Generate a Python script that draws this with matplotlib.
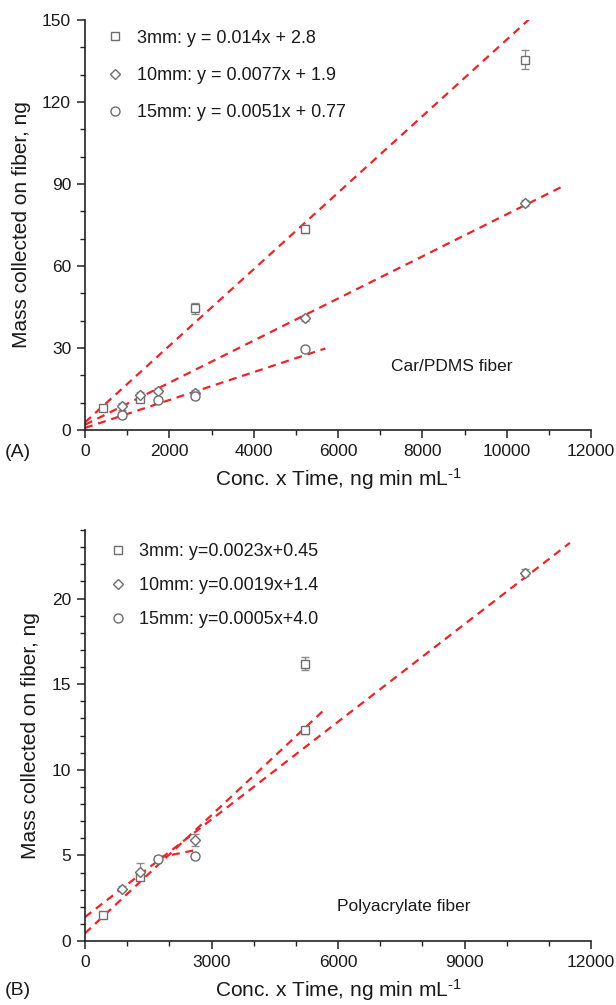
import matplotlib
matplotlib.use("Agg")
import matplotlib.pyplot as plt
from matplotlib.ticker import MultipleLocator
import numpy as np

plt.rcParams['font.family'] = ['Liberation Sans', 'DejaVu Sans']
plt.rcParams['mathtext.fontset'] = 'custom'
plt.rcParams['mathtext.rm'] = 'Liberation Sans'
plt.rcParams['mathtext.it'] = 'Liberation Sans'

# ---------------- Data ----------------
series_names = ["3mm", "10mm", "15mm"]
markers = ["s", "D", "o"]

# Panel A: Car/PDMS fiber
a_x_3mm = [435, 1305, 2610, 5220, 10440]
a_y_3mm = [8.2, 11.2, 44.5, 73.5, 135.5]
a_e_3mm = [0.8, 0.8, 2.0, 1.5, 3.5]
a_x_10mm = [870, 1305, 1740, 2610, 5220, 10440]
a_y_10mm = [8.7, 12.8, 14.4, 13.5, 41.0, 83.0]
a_e_10mm = [1.2, 1.2, 1.0, 1.0, 1.0, 1.0]
a_x_15mm = [870, 1740, 2610, 5220]
a_y_15mm = [5.5, 11.0, 12.3, 29.6]
a_e_15mm = [1.0, 0.8, 1.0, 0.8]
a_slopes = [0.014, 0.0077, 0.0051]
a_intercepts = [2.8, 1.9, 0.77]
a_fit_ranges = [(0, 11400), (0, 11400), (0, 5700)]
a_labels = ["3mm: y = 0.014x + 2.8", "10mm: y = 0.0077x + 1.9", "15mm: y = 0.0051x + 0.77"]

# Panel B: Polyacrylate fiber
b_x_3mm = [435, 1305, 5220, 5220]
b_y_3mm = [1.5, 3.75, 12.3, 16.2]
b_e_3mm = [0.1, 0.2, 0.2, 0.4]
b_x_10mm = [870, 1305, 2610, 10440]
b_y_10mm = [3.05, 4.05, 5.87, 21.5]
b_e_10mm = [0.15, 0.5, 0.35, 0.2]
b_x_15mm = [1740, 2610]
b_y_15mm = [4.8, 4.95]
b_e_15mm = [0.15, 0.15]
b_slopes = [0.0023, 0.0019, 0.0005]
b_intercepts = [0.45, 1.4, 4.0]
b_fit_ranges = [(0, 5700), (0, 11500), (1740, 2610)]
b_labels = ["3mm: y=0.0023x+0.45", "10mm: y=0.0019x+1.4", "15mm: y=0.0005x+4.0"]

xlabel = r"Conc. x Time, ng min mL$^{\text{-1}}$"
ylabel = "Mass collected on fiber, ng"

# ---------------- Figure ----------------
W, H = 616, 1005
fig = plt.figure(figsize=(W / 100, H / 100), dpi=100)

def ax_rect(x0, x1, ytop, ybot):
    return [x0 / W, 1 - ybot / H, (x1 - x0) / W, (ybot - ytop) / H]

axA = fig.add_axes(ax_rect(85, 591, 20, 430))
axB = fig.add_axes(ax_rect(85, 591, 530, 941))

red = "#e8262a"
mcol = "#6e6e6e"
ecol = "#8a8a8a"
txt = "#1a1a1a"

def draw_panel(ax, xs, ys, es, slopes, intercepts, ranges, labels, note, note_xy,
               xmaj, ymaj, ymin, ylim, leg_anchor, leg_spacing):
    handles = []
    for x, y, e, m in zip(xs, ys, es, markers):
        ms = 6.0 if m == "s" else (5.5 if m == "D" else 6.5)
        cont = ax.errorbar(x, y, yerr=e, fmt=m, ms=ms, mfc="white", mec=mcol,
                           mew=1.0, ecolor=ecol, elinewidth=0.9, capsize=3,
                           capthick=0.9, zorder=3)
        handles.append(cont[0])
    for s, b, (x0, x1) in zip(slopes, intercepts, ranges):
        xx = np.array([x0, x1], dtype=float)
        ax.plot(xx, s * xx + b, color=red, lw=1.6, ls=(0, (3.6, 2.6)), zorder=2)
    ax.set_xlim(0, 12000)
    ax.set_ylim(0, ylim)
    ax.xaxis.set_major_locator(MultipleLocator(xmaj))
    ax.xaxis.set_minor_locator(MultipleLocator(1000))
    ax.yaxis.set_major_locator(MultipleLocator(ymaj))
    ax.yaxis.set_minor_locator(MultipleLocator(ymin))
    for side in ("top", "right"):
        ax.spines[side].set_visible(False)
    for side in ("left", "bottom"):
        ax.spines[side].set_linewidth(1.2)
        ax.spines[side].set_color("#222222")
    ax.tick_params(which="major", direction="out", length=6, width=1.1,
                   labelsize=12.5, colors="#222222", labelcolor=txt, pad=4)
    ax.tick_params(which="minor", direction="out", length=3.5, width=1.0,
                   colors="#222222")
    ax.set_xlabel(xlabel, fontsize=15, color=txt, labelpad=5)
    ax.set_ylabel(ylabel, fontsize=15, color=txt, labelpad=8)
    leg = ax.legend(handles, labels, loc="upper left", bbox_to_anchor=leg_anchor,
                    frameon=False, fontsize=13, handlelength=1.0,
                    handletextpad=0.7, labelspacing=leg_spacing, borderaxespad=0.2)
    for t in leg.get_texts():
        t.set_color(txt)
    ax.text(note_xy[0], note_xy[1], note, transform=ax.transAxes, fontsize=12.5,
            color=txt, ha="center", va="center")

draw_panel(axA, [a_x_3mm, a_x_10mm, a_x_15mm], [a_y_3mm, a_y_10mm, a_y_15mm],
           [a_e_3mm, a_e_10mm, a_e_15mm], a_slopes, a_intercepts, a_fit_ranges,
           a_labels, "Car/PDMS fiber", (0.725, 0.155), 2000, 30, 10, 150,
           (0.02, 1.003), 1.12)
draw_panel(axB, [b_x_3mm, b_x_10mm, b_x_15mm], [b_y_3mm, b_y_10mm, b_y_15mm],
           [b_e_3mm, b_e_10mm, b_e_15mm], b_slopes, b_intercepts, b_fit_ranges,
           b_labels, "Polyacrylate fiber", (0.63, 0.085), 3000, 5, 1, 24,
           (0.025, 0.995), 0.95)

fig.text(5 / W, 1 - 452 / H, "(A)", fontsize=14, color=txt, ha="left", va="center")
fig.text(5 / W, 1 - 990 / H, "(B)", fontsize=14, color=txt, ha="left", va="center")

fig.savefig("out.png", dpi=100)
